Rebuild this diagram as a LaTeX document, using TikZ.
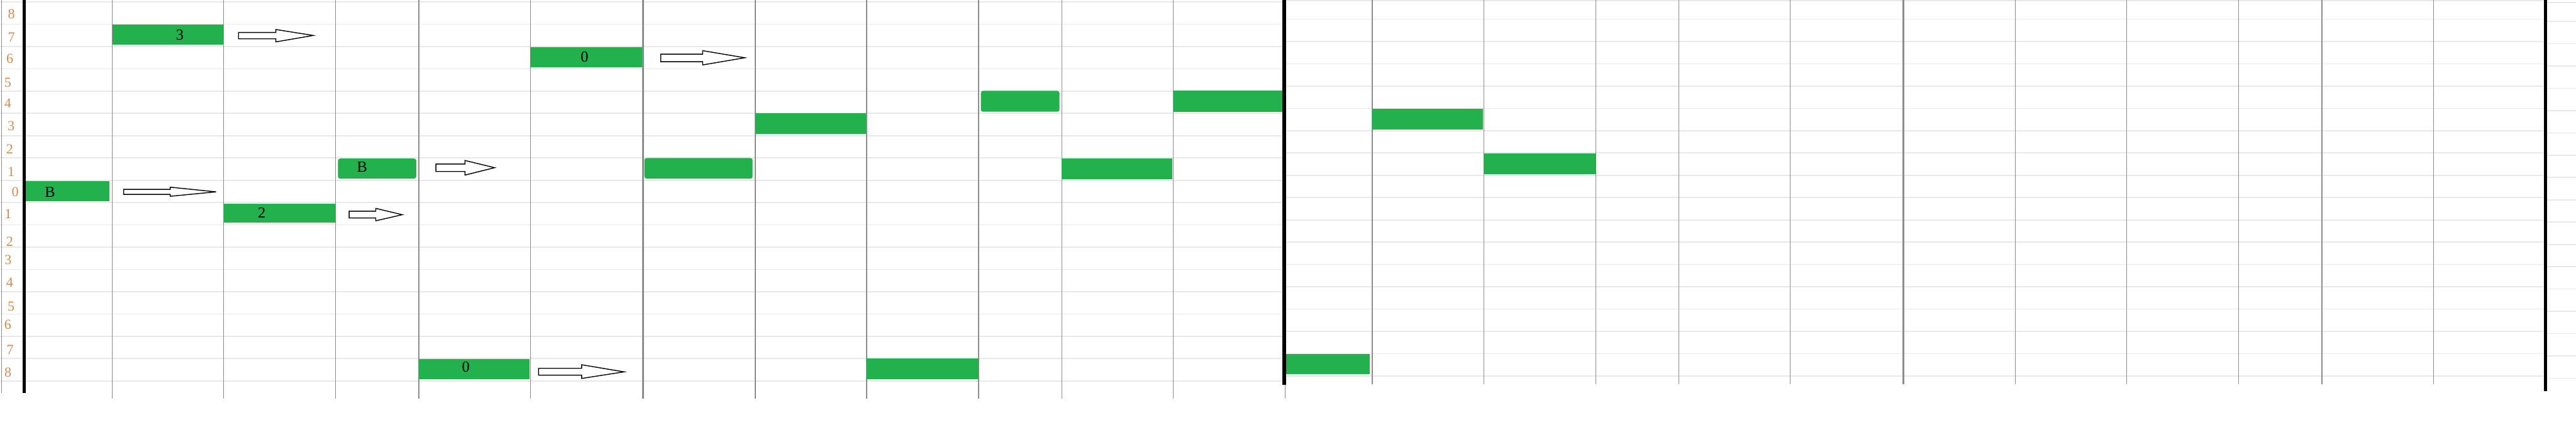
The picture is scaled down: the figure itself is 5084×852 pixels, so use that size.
\documentclass[tikz,border=0pt]{standalone}
\usepackage{fontspec}
\setmainfont{Liberation Serif}
\definecolor{barcol}{RGB}{34,177,76}
\definecolor{lblcol}{RGB}{214,138,80}
\definecolor{hgrid}{RGB}{232,232,232}
\definecolor{vgrid}{RGB}{140,140,140}
\tikzset{
  hline/.style={draw=hgrid, line width=0.6pt},
  vline/.style={draw=vgrid, line width=0.45pt},
  thickline/.style={draw=black, line width=1.9pt},
  greenbar/.style={fill=barcol},
  roundbar/.style={fill=barcol, rounded corners=1.2pt},
  arrowline/.style={draw=black, fill=white, line width=0.5pt, line join=miter},
  lbl/.style={text=lblcol, inner sep=0pt, font=\fontsize{7.8}{9}\selectfont},
  btxt/.style={text=black, inner sep=0pt, font=\fontsize{8.6}{10}\selectfont}
}
\newcommand\hollowarrow[8]{%
  \draw[arrowline] (#1,#4) -- (#3,#4) -- (#3,#6) -- (#2,#8) -- (#3,#7) -- (#3,#5) -- (#1,#5) -- cycle;}
\begin{document}
\begin{tikzpicture}[x=0.01cm,y=-0.01cm]
\useasboundingbox (0,0) rectangle (5084,852);
\fill[white] (0,0) rectangle (5084,852);
% horizontal grid lines
\draw[hline] (0,3.5) -- (2531,3.5);
\foreach \k in {0,...,16}{\draw[hline] (0,{47.8+44*\k}) -- (2531,{47.8+44*\k});}
\draw[hline] (2538,1.6) -- (5020,1.6);
\foreach \k in {0,...,16}{\draw[hline] (2538,{38+44*\k}) -- (5020,{38+44*\k});}
\draw[hline] (5027,5.4) -- (5084,5.4);
\foreach \k in {0,...,16}{\draw[hline] (5027,{42.4+44*\k}) -- (5084,{42.4+44*\k});}
% vertical grid lines
\draw[vline] (2.7,0) -- (2.7,776);
\foreach \xx in {221.6,441.4,662.4,826.5,1046.8,1268.5,1270.8,1490.6,1710.2,1931.2,2095.4,2315.8}{\draw[vline] (\xx,0) -- (\xx,786.7);}
\draw[vline] (2536.3,759) -- (2536.3,786.7);
\foreach \xx in {2708.2,2928.6,3149.6,3313.7,3533.5,3755,3757.2,3977,4197.3,4418.2,4582.6,4802.9}{\draw[vline] (\xx,0) -- (\xx,758);}
% green bars
\fill[greenbar] (50.5,357) rectangle (216.4,396.7);
\fill[greenbar] (221.6,47.8) rectangle (441,88.6);
\fill[greenbar] (442,402) rectangle (662.4,439);
\fill[roundbar] (667,313) rectangle (821.5,352.6);
\fill[greenbar] (826.4,709) rectangle (1045,748.2);
\fill[greenbar] (1046.8,93.5) rectangle (1267.8,132.6);
\fill[roundbar] (1271.9,312) rectangle (1485.4,352.6);
\fill[greenbar] (1490.6,223.9) rectangle (1709,265);
\fill[greenbar] (1710,708) rectangle (1931.8,748.2);
\fill[roundbar] (1935.8,179.3) rectangle (2090.8,220.6);
\fill[greenbar] (2094.8,312.4) rectangle (2314,353.2);
\fill[greenbar] (2315.8,179.3) rectangle (2531,220.6);
\fill[greenbar] (2537.8,698.8) rectangle (2703.7,739);
\fill[greenbar] (2708.2,215.2) rectangle (2927,255.4);
\fill[greenbar] (2928.6,303.2) rectangle (3149.6,343.4);
% thick lines
\draw[thickline] (47.5,0) -- (47.5,776);
\draw[thickline] (2534.5,0) -- (2534.5,759);
\draw[thickline] (5023.5,0) -- (5023.5,771.6);
% hollow arrows
\hollowarrow{470.7}{618.3}{544.5}{64}{76.6}{58.3}{82.7}{70}
\hollowarrow{244}{426.5}{336}{373.8}{383.6}{369.5}{387.4}{378.7}
\hollowarrow{689}{794}{741.6}{416.8}{430.3}{411.3}{435.8}{423.8}
\hollowarrow{860.3}{976.2}{917.7}{323.8}{338.5}{316.8}{345.6}{331}
\hollowarrow{1304}{1470}{1386.7}{107}{121.7}{100}{128.2}{114}
\hollowarrow{1063}{1231.7}{1147.9}{727}{740.6}{720}{747}{734}
% bar texts
\node[btxt] (tB1) at (98.7,378.7) {B};
\node[btxt] (t3) at (355,69) {3};
\node[btxt] (t2) at (516.6,420) {2};
\node[btxt] (tB2) at (714.7,329.8) {B};
\node[btxt] (t0a) at (919.4,724.3) {0};
\node[btxt] (t0b) at (1153.6,112.5) {0};
% row labels
\node[lbl] (r1) at (22.5,28) {8};
\node[lbl] (r2) at (22.5,73.4) {7};
\node[lbl] (r3) at (19.3,116) {6};
\node[lbl] (r4) at (15.5,163) {5};
\node[lbl] (r5) at (15.5,203.8) {4};
\node[lbl] (r6) at (22,248.9) {3};
\node[lbl] (r7) at (19,295) {2};
\node[lbl] (r8) at (22,339.6) {1};
\node[lbl] (r9) at (30,378.7) {0};
\node[lbl] (r10) at (16,422.7) {1};
\node[lbl] (r11) at (19,476.5) {2};
\node[lbl] (r12) at (16,513.5) {3};
\node[lbl] (r13) at (19,557) {4};
\node[lbl] (r14) at (22,604.8) {5};
\node[lbl] (r15) at (15.5,641.2) {6};
\node[lbl] (r16) at (20,690) {7};
\node[lbl] (r17) at (15.7,735) {8};
\end{tikzpicture}
\end{document}
